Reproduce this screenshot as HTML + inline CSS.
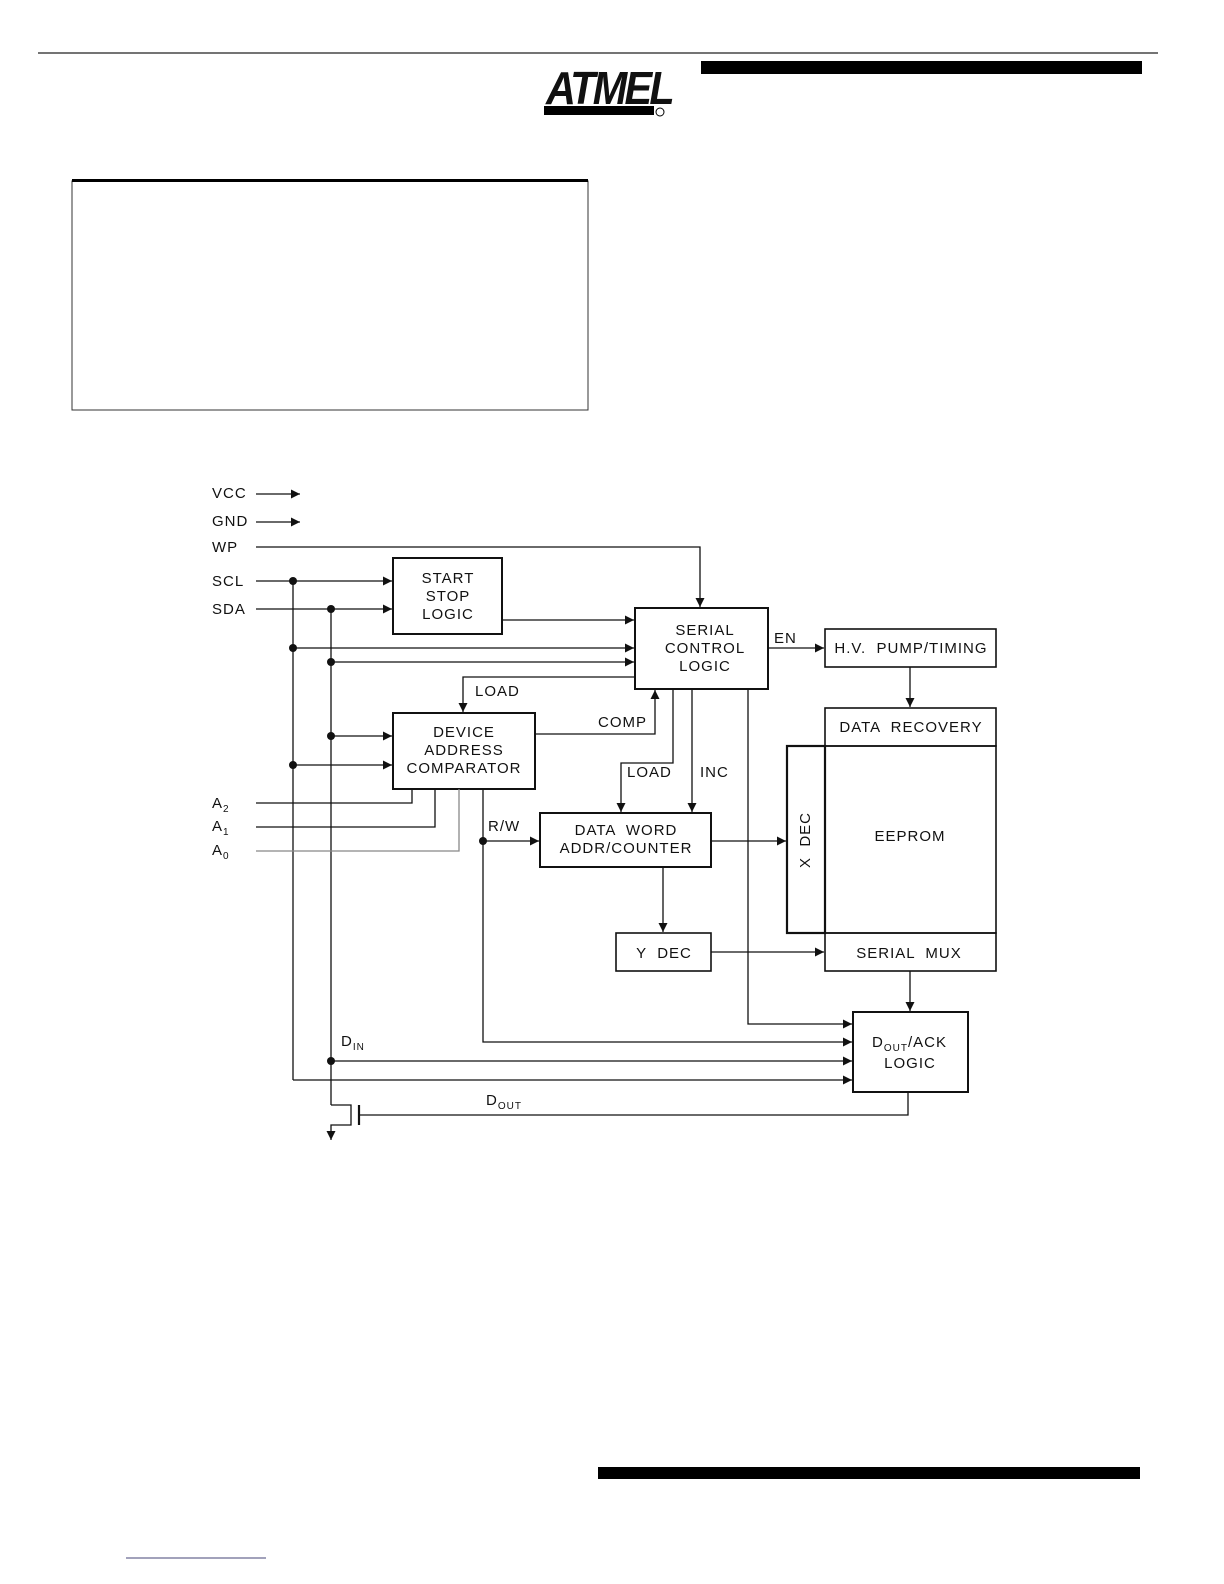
<!DOCTYPE html>
<html><head><style>
html,body{margin:0;padding:0;background:#fff;overflow:hidden;width:1224px;height:1584px;}
svg{display:block;}
text{font-family:"Liberation Sans",sans-serif;font-size:15px;fill:#111;letter-spacing:1px;white-space:pre;}
</style></head><body>
<svg width="1224" height="1584" viewBox="0 0 1224 1584" xmlns="http://www.w3.org/2000/svg">
<defs>
<marker id="a" viewBox="0 0 10 10" refX="10" refY="5" markerWidth="9" markerHeight="9" markerUnits="userSpaceOnUse" orient="auto"><path d="M0,0L10,5L0,10z" fill="#111"/></marker>
</defs>
<line x1="38" y1="53" x2="1158" y2="53" stroke="#222" stroke-width="1.2"/>
<rect x="701" y="61" width="441" height="13" fill="#000"/>
<g>
<text x="546" y="104" style="font-size:46px;font-weight:bold;font-style:italic;letter-spacing:-3px" transform="translate(546,0) scale(0.9,1) translate(-546,0)">ATMEL</text>
<rect x="544" y="106" width="110" height="9" fill="#000"/>
<circle cx="660" cy="112" r="4" fill="none" stroke="#000" stroke-width="1"/>
</g>
<rect x="72" y="181" width="516" height="229" fill="none" stroke="#333" stroke-width="1"/>
<line x1="72" y1="180.5" x2="588" y2="180.5" stroke="#000" stroke-width="3"/>
<rect x="598" y="1467" width="542" height="12" fill="#000"/>
<line x1="126" y1="1558" x2="266" y2="1558" stroke="#447" stroke-width="1"/>

<g stroke="#111" stroke-width="1.3" fill="none">
<rect x="393" y="558" width="109" height="76" stroke-width="2"/>
<rect x="635" y="608" width="133" height="81" stroke-width="2"/>
<rect x="825" y="629" width="171" height="38" stroke-width="1.6"/>
<rect x="393" y="713" width="142" height="76" stroke-width="2"/>
<rect x="825" y="708" width="171" height="38" stroke-width="1.6"/>
<rect x="825" y="746" width="171" height="187" stroke-width="1.6"/>
<rect x="787" y="746" width="38" height="187" stroke-width="2.2"/>
<rect x="825" y="933" width="171" height="38" stroke-width="1.6"/>
<rect x="540" y="813" width="171" height="54" stroke-width="2"/>
<rect x="616" y="933" width="95" height="38" stroke-width="1.6"/>
<rect x="853" y="1012" width="115" height="80" stroke-width="2"/>

<line x1="256" y1="494" x2="300" y2="494" marker-end="url(#a)"/>
<line x1="256" y1="522" x2="300" y2="522" marker-end="url(#a)"/>
<polyline points="256,547 700,547 700,607" marker-end="url(#a)"/>
<line x1="256" y1="581" x2="392" y2="581" marker-end="url(#a)"/>
<line x1="256" y1="609" x2="392" y2="609" marker-end="url(#a)"/>
<line x1="502" y1="620" x2="634" y2="620" marker-end="url(#a)"/>
<line x1="293" y1="581" x2="293" y2="1080"/>
<line x1="331" y1="609" x2="331" y2="1105"/>
<line x1="293" y1="648" x2="634" y2="648" marker-end="url(#a)"/>
<line x1="331" y1="662" x2="634" y2="662" marker-end="url(#a)"/>
<polyline points="635,677 463,677 463,712" marker-end="url(#a)"/>
<polyline points="535,734 655,734 655,690" marker-end="url(#a)"/>
<line x1="331" y1="736" x2="392" y2="736" marker-end="url(#a)"/>
<line x1="293" y1="765" x2="392" y2="765" marker-end="url(#a)"/>
<polyline points="256,803 412,803 412,789"/>
<polyline points="256,827 435,827 435,789"/>
<polyline points="256,851 459,851 459,789" stroke="#888"/>
<polyline points="483,789 483,1042 852,1042" marker-end="url(#a)"/>
<line x1="483" y1="841" x2="539" y2="841" marker-end="url(#a)"/>
<polyline points="673,689 673,763 621,763 621,812" marker-end="url(#a)"/>
<line x1="692" y1="689" x2="692" y2="812" marker-end="url(#a)"/>
<polyline points="748,689 748,1024 852,1024" marker-end="url(#a)"/>
<line x1="711" y1="841" x2="786" y2="841" marker-end="url(#a)"/>
<line x1="768" y1="648" x2="824" y2="648" marker-end="url(#a)"/>
<line x1="910" y1="667" x2="910" y2="707" marker-end="url(#a)"/>
<line x1="663" y1="867" x2="663" y2="932" marker-end="url(#a)"/>
<line x1="711" y1="952" x2="824" y2="952" marker-end="url(#a)"/>
<line x1="910" y1="971" x2="910" y2="1011" marker-end="url(#a)"/>
<line x1="331" y1="1061" x2="852" y2="1061" marker-end="url(#a)"/>
<polyline points="293,1080 852,1080" marker-end="url(#a)"/>
<polyline points="331,1105 351,1105 351,1125 331,1125 331,1140" marker-end="url(#a)"/>
<line x1="359" y1="1105" x2="359" y2="1125" stroke-width="2.2"/>
<polyline points="359,1115 908,1115 908,1092"/>
</g>
<g fill="#111">
<circle cx="293" cy="581" r="4"/><circle cx="331" cy="609" r="4"/>
<circle cx="293" cy="648" r="4"/><circle cx="331" cy="662" r="4"/>
<circle cx="331" cy="736" r="4"/><circle cx="293" cy="765" r="4"/>
<circle cx="483" cy="841" r="4"/><circle cx="331" cy="1061" r="4"/>
</g>
<text x="212" y="498">VCC</text>
<text x="212" y="526">GND</text>
<text x="212" y="552">WP</text>
<text x="212" y="586">SCL</text>
<text x="212" y="614">SDA</text>
<text x="212" y="808">A<tspan dy="4" style="font-size:10px">2</tspan></text>
<text x="212" y="831">A<tspan dy="4" style="font-size:10px">1</tspan></text>
<text x="212" y="855">A<tspan dy="4" style="font-size:10px">0</tspan></text>
<g text-anchor="middle">
<text x="448" y="583">START</text><text x="448" y="601">STOP</text><text x="448" y="619">LOGIC</text>
<text x="705" y="635">SERIAL</text><text x="705" y="653">CONTROL</text><text x="705" y="671">LOGIC</text>
<text x="911" y="653">H.V.  PUMP/TIMING</text>
<text x="911" y="732">DATA  RECOVERY</text>
<text x="910" y="841">EEPROM</text>
<text x="909" y="958">SERIAL  MUX</text>
<text x="464" y="737">DEVICE</text><text x="464" y="755">ADDRESS</text><text x="464" y="773">COMPARATOR</text>
<text x="626" y="835">DATA  WORD</text><text x="626" y="853">ADDR/COUNTER</text>
<text x="664" y="958">Y  DEC</text>
<text x="910" y="1068">LOGIC</text>
<text transform="translate(810,840) rotate(-90)">X  DEC</text>
</g>
<text x="872" y="1047">D<tspan dy="4" style="font-size:10px">OUT</tspan><tspan dy="-4">/ACK</tspan></text>
<text x="774" y="643">EN</text>
<text x="475" y="696">LOAD</text>
<text x="598" y="727">COMP</text>
<text x="627" y="777">LOAD</text>
<text x="700" y="777">INC</text>
<text x="488" y="831">R/W</text>
<text x="341" y="1046">D<tspan dy="4" style="font-size:10px">IN</tspan></text>
<text x="486" y="1105">D<tspan dy="4" style="font-size:10px">OUT</tspan></text>
</svg>
</body></html>
